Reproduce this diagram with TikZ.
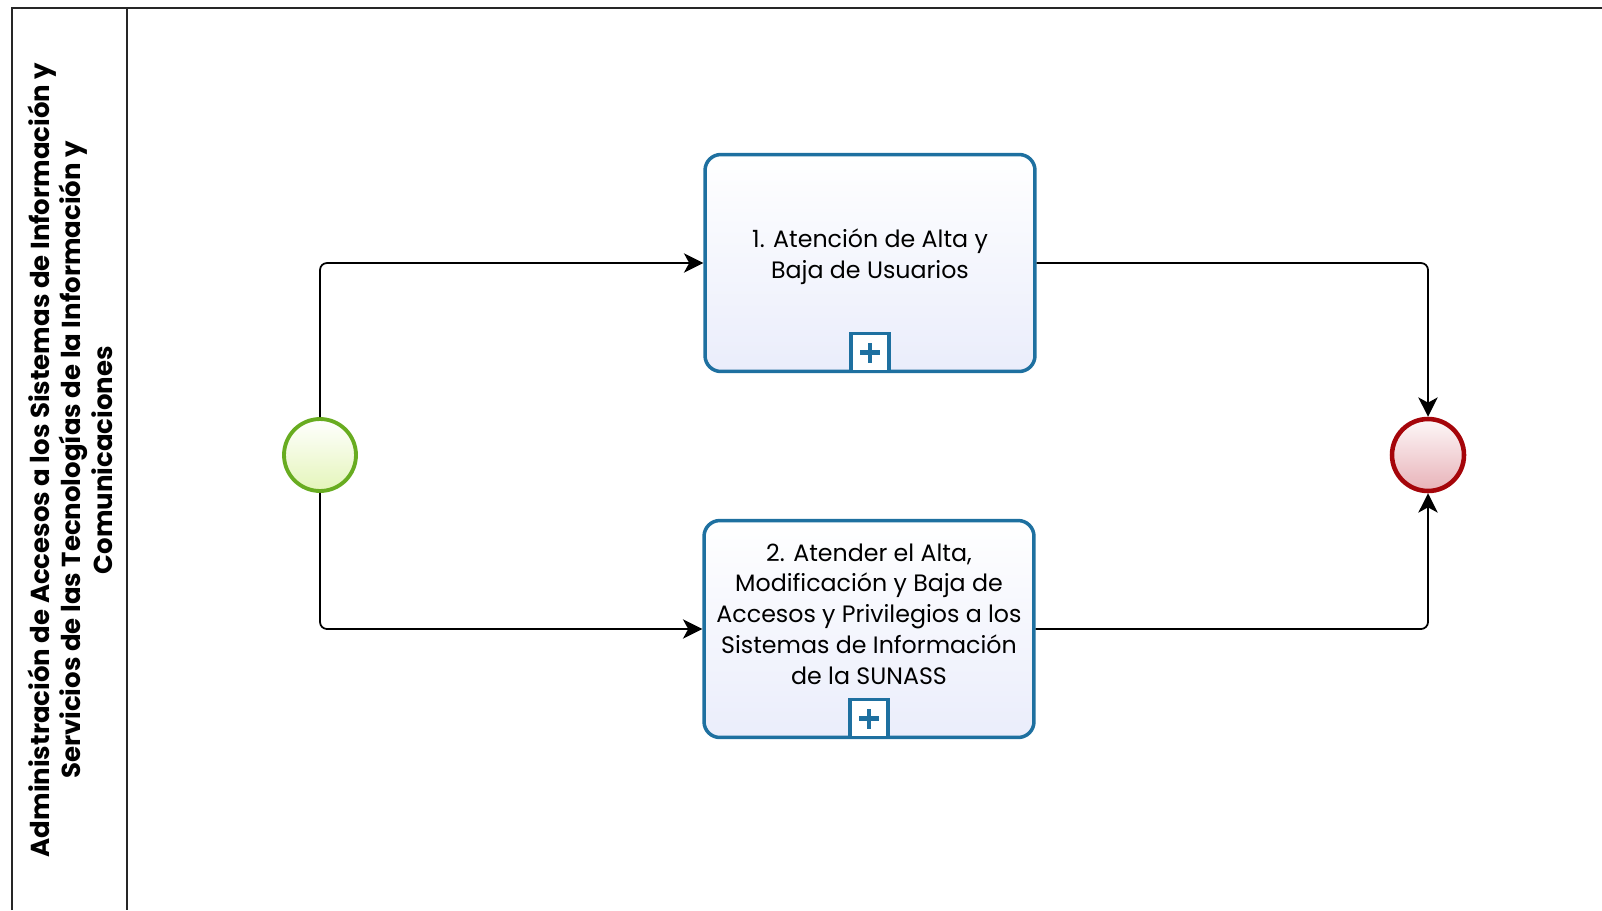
\documentclass[tikz,border=0pt]{standalone}
\usepackage{fontspec}
\setmainfont{Poppins}
\usetikzlibrary{arrows.meta,positioning}

\definecolor{taskblue}{RGB}{30,112,160}
\definecolor{taskfill}{RGB}{234,237,251}
\definecolor{startgreen}{RGB}{104,172,32}
\definecolor{startfill}{RGB}{228,245,185}
\definecolor{endred}{RGB}{165,5,10}
\definecolor{endfill}{RGB}{232,178,184}

\tikzset{
  pool/.style={line width=1.1pt, draw=black!85},
  task/.style={draw=taskblue, line width=2pt, rounded corners=9pt, top color=white, bottom color=taskfill, minimum width=6.6cm, minimum height=4.34cm},
  tasktext/.style={align=center, font=\fontsize{13.5}{17.5}\selectfont},
  marker/.style={draw=taskblue, line width=1.8pt, fill=white, minimum size=0.76cm, inner sep=0pt},
  plussign/.style={draw=taskblue, line width=2.6pt},
  startev/.style={circle, draw=startgreen, line width=2.2pt, top color=white, bottom color=startfill, minimum size=1.44cm},
  endev/.style={circle, draw=endred, line width=2.6pt, top color=white!90!endfill, bottom color=endfill, minimum size=1.44cm},
  flow/.style={line width=1pt, rounded corners=4pt, -{Stealth[length=11pt,width=11pt,inset=3pt]}},
  lanetext/.style={rotate=90, align=center, font=\bfseries\fontsize{14.8}{18}\selectfont}
}

\begin{document}
\begin{tikzpicture}[x=0.02cm, y=-0.02cm]
\useasboundingbox (0,0) rectangle (1602,910);

% pool and lane
\draw[pool] (12,910) |- (1602,8);
\draw[pool] (127,8) -- (127,910);
\node[lanetext] (lane) at (70,460) {Administración de Accesos a los Sistemas de Información y\\Servicios de las Tecnologías de la Información y\\Comunicaciones};

% events
\node[startev] (start) at (320,455) {};
\node[endev] (end) at (1428,455) {};

% tasks
\node[task] (b1) at (870,263) {};
\node[tasktext] (t1) at ([yshift=0.13cm]b1.center) {1. Atención de Alta y\\Baja de Usuarios};
\node[marker, anchor=south] (m1) at (b1.south) {};
\draw[plussign] ([xshift=-0.2cm]m1.center) -- ([xshift=0.2cm]m1.center);
\draw[plussign] ([yshift=-0.2cm]m1.center) -- ([yshift=0.2cm]m1.center);

\node[task] (b2) at (869,629) {};
\node[tasktext] (t2) at ([yshift=0.3cm]b2.center) {2. Atender el Alta,\\Modificación y Baja de\\Accesos y Privilegios a los\\Sistemas de Información\\de la SUNASS};
\node[marker, anchor=south] (m2) at (b2.south) {};
\draw[plussign] ([xshift=-0.2cm]m2.center) -- ([xshift=0.2cm]m2.center);
\draw[plussign] ([yshift=-0.2cm]m2.center) -- ([yshift=0.2cm]m2.center);

% sequence flows
\draw[flow] (start.north) |- (b1.west);
\draw[flow] (start.south) |- (b2.west);
\draw[flow] (b1.east) -| (end.north);
\draw[flow] (b2.east) -| (end.south);

\end{tikzpicture}
\end{document}
